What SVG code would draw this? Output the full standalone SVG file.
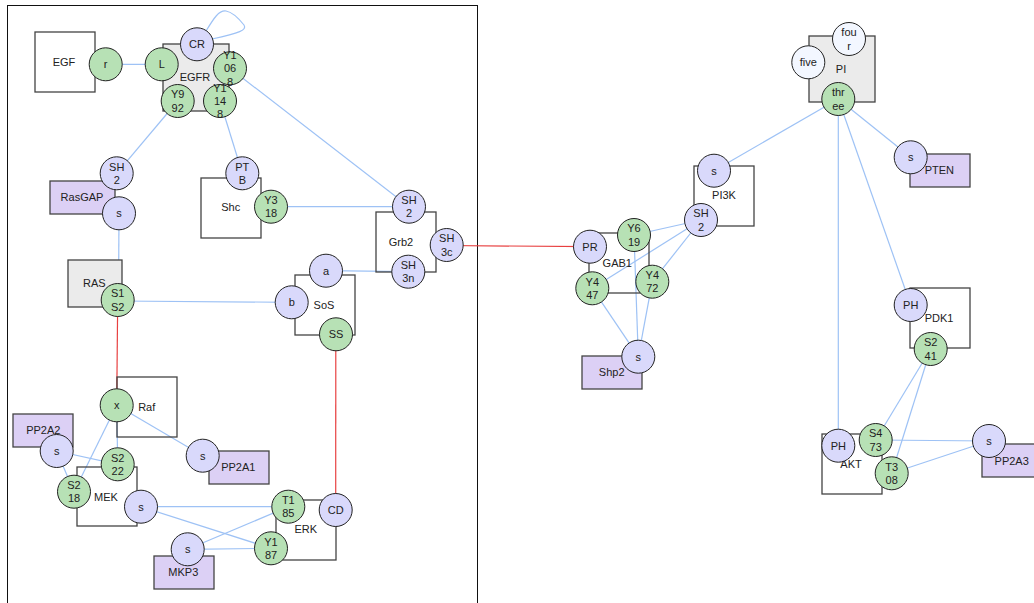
<svg xmlns="http://www.w3.org/2000/svg" width="1034" height="603" viewBox="0 0 1034 603">
<style>
text{font-family:"Liberation Sans",Arial,sans-serif;font-size:11px;fill:#222;text-anchor:middle;dominant-baseline:central}
.bx{fill:none;stroke:#444;stroke-width:1.3}
.gy{fill:#ebebeb;stroke:#444;stroke-width:1.3}
.pu{fill:#dcd0f5;stroke:#444;stroke-width:1.3}
.g{fill:#b7e1b5;stroke:#222;stroke-width:1}
.l{fill:#d9d9fb;stroke:#222;stroke-width:1}
.w{fill:#f3f7ff;stroke:#222;stroke-width:1}
.e{stroke:#9ec2f5;stroke-width:1.2;fill:none}
.r{stroke:#e84040;stroke-width:1.2;fill:none}
</style>
<rect width="1034" height="603" fill="#fff"/>
<rect x="7.5" y="5.5" width="470" height="610" fill="none" stroke="#111" stroke-width="1"/>
<g id="connectors">
<line class="e" x1="105.7" y1="64.3" x2="161.7" y2="64.3"/>
<path class="e" d="M206,31 C214,18 219,10 226,11 C232,12 240,20 244,25 C247,30 240,33 212,39"/>
<line class="e" x1="177.7" y1="101" x2="116.7" y2="173.3"/>
<line class="e" x1="220" y1="101" x2="242.3" y2="173.3"/>
<line class="e" x1="230" y1="68.3" x2="409" y2="206.7"/>
<line class="e" x1="271" y1="206.7" x2="409" y2="206.7"/>
<line class="e" x1="119" y1="213.3" x2="118.5" y2="300"/>
<line class="e" x1="117.7" y1="301" x2="291.7" y2="302.3"/>
<line class="e" x1="326" y1="270.7" x2="408.3" y2="271.7"/>
<line class="r" x1="446.7" y1="245.5" x2="590" y2="246.7"/>
<line class="r" x1="117.7" y1="300" x2="116.7" y2="405.3"/>
<line class="r" x1="335.8" y1="334.3" x2="335.7" y2="510"/>
<line class="e" x1="116.7" y1="405.3" x2="117.7" y2="464.3"/>
<line class="e" x1="116.7" y1="405.3" x2="74" y2="491.7"/>
<line class="e" x1="116.7" y1="405.3" x2="202.7" y2="455.7"/>
<line class="e" x1="56.7" y1="451" x2="117.7" y2="464.3"/>
<line class="e" x1="56.7" y1="451" x2="74" y2="491.7"/>
<line class="e" x1="141" y1="506.7" x2="288.3" y2="506.7"/>
<line class="e" x1="141" y1="506.7" x2="271" y2="548.3"/>
<line class="e" x1="187.7" y1="549.3" x2="288.3" y2="506.7"/>
<line class="e" x1="187.7" y1="549.3" x2="271" y2="548.3"/>
<line class="e" x1="701" y1="220" x2="634" y2="235"/>
<line class="e" x1="701" y1="220" x2="592.3" y2="288.3"/>
<line class="e" x1="701" y1="220" x2="652.3" y2="281.7"/>
<line class="e" x1="638.3" y1="356.7" x2="592.3" y2="288.3"/>
<line class="e" x1="638.3" y1="356.7" x2="634" y2="235"/>
<line class="e" x1="638.3" y1="356.7" x2="652.3" y2="281.7"/>
<line class="e" x1="714" y1="170.7" x2="838.3" y2="99"/>
<line class="e" x1="838.3" y1="99" x2="910.7" y2="157.3"/>
<line class="e" x1="838.3" y1="99" x2="910.7" y2="305"/>
<line class="e" x1="838.3" y1="99" x2="838.3" y2="445.7"/>
<line class="e" x1="930.7" y1="349" x2="875.7" y2="440"/>
<line class="e" x1="930.7" y1="349" x2="891.7" y2="473.3"/>
<line class="e" x1="989" y1="441" x2="875.7" y2="440"/>
<line class="e" x1="989" y1="441" x2="891.7" y2="473.3"/>
</g>
<g id="EGF">
<rect class="bx" x="35" y="32" width="60" height="60"/><text x="64" y="62">EGF</text>
<circle class="g" cx="105.7" cy="64.3" r="16.5"/><text x="105.7" y="64.3">r</text>
</g>
<g id="EGFR">
<rect class="gy" x="163" y="44" width="66" height="67"/><text x="195" y="77">EGFR</text>
<circle class="g" cx="161.7" cy="64.3" r="16.5"/><text x="161.7" y="64.3">L</text>
<circle class="l" cx="197" cy="44.3" r="16.5"/><text x="197" y="44.3">CR</text>
<circle class="g" cx="230" cy="68.3" r="16.5"/><text x="230" y="55">Y1</text><text x="230" y="68.3">06</text><text x="230" y="81.6">8</text>
<circle class="g" cx="177.7" cy="101" r="16.5"/><text x="177.7" y="94.3">Y9</text><text x="177.7" y="107.7">92</text>
<circle class="g" cx="220" cy="101" r="16.5"/><text x="220" y="87.7">Y1</text><text x="220" y="101">14</text><text x="220" y="114.3">8</text>
</g>
<g id="Shc">
<rect class="bx" x="201" y="178" width="60" height="60"/><text x="230.7" y="206.7">Shc</text>
<circle class="l" cx="242.3" cy="173.3" r="16.5"/><text x="242.3" y="166.6">PT</text><text x="242.3" y="180">B</text>
<circle class="g" cx="271" cy="206.7" r="16.5"/><text x="271" y="200">Y3</text><text x="271" y="213.4">18</text>
</g>
<g id="RasGAP">
<rect class="pu" x="50" y="181" width="65" height="33"/><text x="82" y="197">RasGAP</text>
<circle class="l" cx="116.7" cy="173.3" r="16.5"/><text x="116.7" y="166.6">SH</text><text x="116.7" y="180">2</text>
<circle class="l" cx="119" cy="213.3" r="16.5"/><text x="119" y="213.3">s</text>
</g>
<g id="RAS">
<rect class="gy" x="68" y="260" width="54" height="47"/><text x="94.3" y="282.7">RAS</text>
<circle class="g" cx="117.7" cy="300" r="16.5"/><text x="117.7" y="293.3">S1</text><text x="117.7" y="306.7">S2</text>
</g>
<g id="SoS">
<rect class="bx" x="295" y="275" width="60" height="60"/><text x="324" y="305">SoS</text>
<circle class="l" cx="326" cy="270.7" r="16.5"/><text x="326" y="270.7">a</text>
<circle class="l" cx="291.7" cy="302.3" r="16.5"/><text x="291.7" y="302.3">b</text>
<circle class="g" cx="336" cy="334.3" r="16.5"/><text x="336" y="334.3">SS</text>
</g>
<g id="Grb2">
<rect class="bx" x="376" y="212" width="60" height="60"/><text x="401" y="241.7">Grb2</text>
<circle class="l" cx="409" cy="206.7" r="16.5"/><text x="409" y="200">SH</text><text x="409" y="213.4">2</text>
<circle class="l" cx="408.3" cy="271.7" r="16.5"/><text x="408.3" y="265">SH</text><text x="408.3" y="278.4">3n</text>
<circle class="l" cx="446.7" cy="245" r="16.5"/><text x="446.7" y="238.3">SH</text><text x="446.7" y="251.7">3c</text>
</g>
<g id="Raf">
<rect class="bx" x="117" y="377" width="60" height="60"/><text x="146.7" y="406.7">Raf</text>
<circle class="g" cx="116.7" cy="405.3" r="16.5"/><text x="116.7" y="405.3">x</text>
</g>
<g id="PP2A2">
<rect class="pu" x="13" y="414" width="60" height="33"/><text x="43.3" y="430">PP2A2</text>
<circle class="l" cx="56.7" cy="451" r="16.5"/><text x="56.7" y="451">s</text>
</g>
<g id="MEK">
<rect class="bx" x="77" y="467" width="60" height="59"/><text x="106" y="496.7">MEK</text>
<circle class="g" cx="117.7" cy="464.3" r="16.5"/><text x="117.7" y="457.6">S2</text><text x="117.7" y="471">22</text>
<circle class="g" cx="74" cy="491.7" r="16.5"/><text x="74" y="485">S2</text><text x="74" y="498.4">18</text>
<circle class="l" cx="141" cy="506.7" r="16.5"/><text x="141" y="506.7">s</text>
</g>
<g id="PP2A1">
<rect class="pu" x="209" y="451" width="60" height="33"/><text x="238.3" y="466.7">PP2A1</text>
<circle class="l" cx="202.7" cy="455.7" r="16.5"/><text x="202.7" y="455.7">s</text>
</g>
<g id="ERK">
<rect class="bx" x="276" y="500" width="60" height="60"/><text x="305.7" y="529.3">ERK</text>
<circle class="g" cx="288.3" cy="506.7" r="16.5"/><text x="288.3" y="500">T1</text><text x="288.3" y="513.4">85</text>
<circle class="g" cx="271" cy="548.3" r="16.5"/><text x="271" y="541.6">Y1</text><text x="271" y="555">87</text>
<circle class="l" cx="335.7" cy="510" r="16.5"/><text x="335.7" y="510">CD</text>
</g>
<g id="MKP3">
<rect class="pu" x="154" y="556" width="60" height="33"/><text x="183.3" y="572.3">MKP3</text>
<circle class="l" cx="187.7" cy="549.3" r="16.5"/><text x="187.7" y="549.3">s</text>
</g>
<g id="GAB1">
<rect class="bx" x="589" y="233" width="60" height="60"/><text x="617.3" y="263.3">GAB1</text>
<circle class="l" cx="590" cy="246.7" r="16.5"/><text x="590" y="246.7">PR</text>
<circle class="g" cx="634" cy="235" r="16.5"/><text x="634" y="228.3">Y6</text><text x="634" y="241.7">19</text>
<circle class="g" cx="592.3" cy="288.3" r="16.5"/><text x="592.3" y="281.6">Y4</text><text x="592.3" y="295">47</text>
<circle class="g" cx="652.3" cy="281.7" r="16.5"/><text x="652.3" y="275">Y4</text><text x="652.3" y="288.4">72</text>
</g>
<g id="PI3K">
<rect class="bx" x="694" y="166" width="60" height="60"/><text x="724" y="195">PI3K</text>
<circle class="l" cx="714" cy="170.7" r="16.5"/><text x="714" y="170.7">s</text>
<circle class="l" cx="701" cy="220" r="16.5"/><text x="701" y="213.3">SH</text><text x="701" y="226.7">2</text>
</g>
<g id="Shp2">
<rect class="pu" x="582" y="356" width="60" height="33"/><text x="611.7" y="372.3">Shp2</text>
<circle class="l" cx="638.3" cy="356.7" r="16.5"/><text x="638.3" y="356.7">s</text>
</g>
<g id="PI">
<rect class="gy" x="809" y="36" width="66" height="66"/><text x="841" y="69">PI</text>
<circle class="w" cx="849" cy="39" r="16.5"/><text x="849" y="32.3">fou</text><text x="849" y="45.7">r</text>
<circle class="w" cx="808.3" cy="62.3" r="16.5"/><text x="808.3" y="62.3">five</text>
<circle class="g" cx="838.3" cy="99" r="16.5"/><text x="838.3" y="92.3">thr</text><text x="838.3" y="105.7">ee</text>
</g>
<g id="PTEN">
<rect class="pu" x="910" y="154" width="60" height="33"/>
<circle class="l" cx="910.7" cy="157.3" r="16.5"/><text x="910.7" y="157.3">s</text>
<text x="939.3" y="170">PTEN</text>
</g>
<g id="PDK1">
<rect class="bx" x="910" y="288" width="60" height="60"/>
<circle class="l" cx="910.7" cy="305" r="16.5"/><text x="910.7" y="305">PH</text>
<text x="939" y="317.7">PDK1</text>
<circle class="g" cx="930.7" cy="349" r="16.5"/><text x="930.7" y="342.3">S2</text><text x="930.7" y="355.7">41</text>
</g>
<g id="AKT">
<rect class="bx" x="822" y="434" width="60" height="60"/><text x="851" y="464.3">AKT</text>
<circle class="l" cx="838.3" cy="445.7" r="16.5"/><text x="838.3" y="445.7">PH</text>
<circle class="g" cx="875.7" cy="440" r="16.5"/><text x="875.7" y="433.3">S4</text><text x="875.7" y="446.7">73</text>
<circle class="g" cx="891.7" cy="473.3" r="16.5"/><text x="891.7" y="466.6">T3</text><text x="891.7" y="480">08</text>
</g>
<g id="PP2A3">
<rect class="pu" x="982" y="444" width="60" height="33"/><text x="1011.7" y="461">PP2A3</text>
<circle class="l" cx="989" cy="441" r="16.5"/><text x="989" y="441">s</text>
</g>
</svg>
